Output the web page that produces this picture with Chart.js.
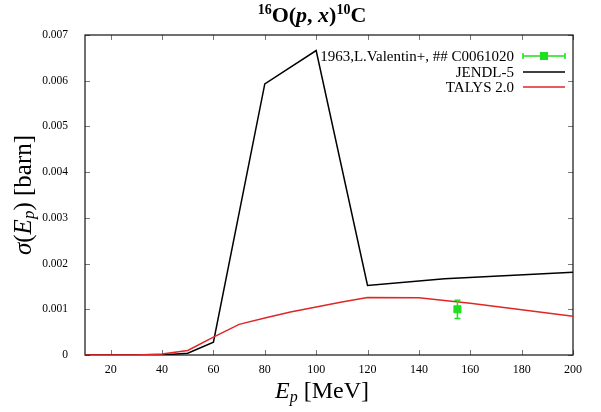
<!DOCTYPE html>
<html lang="en">
<head>
<meta charset="UTF-8">
<title>16O(p,x)10C cross section</title>
<script src="https://cdn.jsdelivr.net/npm/chart.js"></script>
<style>
  body { margin: 0; background: #fff; }
  canvas { display: block; }
</style>
</head>
<body>
<canvas id="xs-chart" width="601" height="412"></canvas>
<script>
// Evaluated cross sections: proton energy (MeV) vs sigma (barn)
const jendlEnergy = [10, 20, 30, 40, 50, 60, 80, 100, 120, 150, 200];
const jendlSigma  = [0, 0, 0, 0, 0.00004, 0.00028, 0.00593, 0.00666, 0.00152, 0.00167, 0.00181];

const talysEnergy = [10, 20, 30, 40, 50, 60, 70, 80, 90, 100, 110, 120, 140, 160, 180, 200];
const talysSigma  = [0, 0, 0, 0.00002, 0.0001, 0.00039, 0.00067, 0.00081, 0.00094, 0.00105,
                     0.00116, 0.00126, 0.00125, 0.00113, 0.00099, 0.00085];

// EXFOR C0061020 (1963, L. Valentin+)
const expEnergy = [155];
const expSigma  = [0.001];
const expError  = [0.0002];

const xTicks = [20, 40, 60, 80, 100, 120, 140, 160, 180, 200];
const yTicks = [0, 0.001, 0.002, 0.003, 0.004, 0.005, 0.006, 0.007];

const SERIF = '"Liberation Serif", "Times New Roman", serif';
const GREEN = '#1fe01f';
const RED = '#e02626';
const BLACK = '#000000';

function toPoints(xs, ys) {
  return xs.map((x, i) => ({ x: x, y: ys[i] }));
}

// draw a run of text pieces, each with its own font and vertical shift
function richText(ctx, parts, x, y, align) {
  let width = 0;
  parts.forEach(p => {
    ctx.font = p.font;
    p.w = ctx.measureText(p.text).width;
    width += p.w;
  });
  let cx = align === 'center' ? x - width / 2 : align === 'right' ? x - width : x;
  ctx.textAlign = 'left';
  ctx.textBaseline = 'alphabetic';
  parts.forEach(p => {
    ctx.font = p.font;
    ctx.fillText(p.text, cx, y + (p.dy || 0));
    cx += p.w;
  });
}

// box around the plot with inward tick marks on all four sides
const frame = {
  id: 'frame',
  beforeDatasetsDraw(chart) {
    const { ctx, chartArea: a, scales } = chart;
    const tl = 5;
    ctx.save();
    ctx.strokeStyle = '#777';
    ctx.lineWidth = 1;
    ctx.beginPath();
    xTicks.forEach(v => {
      const px = Math.round(scales.x.getPixelForValue(v)) + 0.5;
      ctx.moveTo(px, a.bottom); ctx.lineTo(px, a.bottom - tl);
      ctx.moveTo(px, a.top); ctx.lineTo(px, a.top + tl);
    });
    yTicks.forEach(v => {
      const py = Math.round(scales.y.getPixelForValue(v)) + 0.5;
      ctx.moveTo(a.left, py); ctx.lineTo(a.left + tl, py);
      ctx.moveTo(a.right, py); ctx.lineTo(a.right - tl, py);
    });
    ctx.stroke();
    ctx.strokeStyle = '#111';
    ctx.lineWidth = 1.2;
    ctx.strokeRect(a.left, a.top, a.right - a.left, a.bottom - a.top);
    ctx.restore();
  }
};

// vertical error bars for the measured point
const errorBars = {
  id: 'errorBars',
  afterDatasetsDraw(chart) {
    const { ctx, scales } = chart;
    ctx.save();
    ctx.strokeStyle = GREEN;
    ctx.lineWidth = 1.5;
    expEnergy.forEach((e, i) => {
      const px = scales.x.getPixelForValue(e);
      const lo = scales.y.getPixelForValue(expSigma[i] - expError[i]);
      const hi = scales.y.getPixelForValue(expSigma[i] + expError[i]);
      ctx.beginPath();
      ctx.moveTo(px, lo); ctx.lineTo(px, hi);
      ctx.moveTo(px - 3, lo); ctx.lineTo(px + 3, lo);
      ctx.moveTo(px - 3, hi); ctx.lineTo(px + 3, hi);
      ctx.stroke();
    });
    ctx.restore();
  }
};

// title, axis titles and the key in the upper right
const labels = {
  id: 'labels',
  afterDraw(chart) {
    const { ctx, chartArea: a } = chart;
    ctx.save();
    ctx.fillStyle = '#000';

    const b = 'bold 22px ' + SERIF;
    const bi = 'italic bold 22px ' + SERIF;
    const bs = 'bold 14px ' + SERIF;
    richText(ctx, [
      { text: '16', font: bs, dy: -8 },
      { text: 'O(', font: b },
      { text: 'p', font: bi },
      { text: ', ', font: b },
      { text: 'x', font: bi },
      { text: ')', font: b },
      { text: '10', font: bs, dy: -8 },
      { text: 'C', font: b }
    ], 312, 22, 'center');

    const n = '24px ' + SERIF;
    const it = 'italic 24px ' + SERIF;
    const sub = 'italic 16px ' + SERIF;
    richText(ctx, [
      { text: 'E', font: it },
      { text: 'p', font: sub, dy: 4 },
      { text: ' [MeV]', font: n }
    ], 322, 398, 'center');

    const yn = '25px ' + SERIF;
    const yit = 'italic 25px ' + SERIF;
    const ysub = 'italic 17px ' + SERIF;
    ctx.save();
    ctx.translate(31, (a.top + a.bottom) / 2);
    ctx.rotate(-Math.PI / 2);
    richText(ctx, [
      { text: 'σ', font: yit },
      { text: '(', font: yn },
      { text: 'E', font: yit },
      { text: 'p', font: ysub, dy: 3 },
      { text: ') [barn]', font: yn }
    ], 0, 0, 'center');
    ctx.restore();

    // key
    const keyFont = '15px ' + SERIF;
    const textRight = 514, s0 = 523, s1 = 565;
    const rows = [56, 72, 87];
    chart.data.datasets.forEach((ds, i) => {
      const y = rows[i];
      ctx.font = keyFont;
      ctx.textAlign = 'right';
      ctx.textBaseline = 'middle';
      ctx.fillText(ds.label, textRight, y + 1);
      ctx.strokeStyle = ds.borderColor;
      ctx.lineWidth = 1.5;
      ctx.beginPath();
      ctx.moveTo(s0, y); ctx.lineTo(s1, y);
      if (i === 0) {
        ctx.moveTo(s0, y - 3); ctx.lineTo(s0, y + 3);
        ctx.moveTo(s1, y - 3); ctx.lineTo(s1, y + 3);
      }
      ctx.stroke();
      if (i === 0) {
        ctx.fillStyle = GREEN;
        ctx.fillRect((s0 + s1) / 2 - 4, y - 4, 8, 8);
        ctx.fillStyle = '#000';
      }
    });
    ctx.restore();
  }
};

new Chart(document.getElementById('xs-chart'), {
  type: 'scatter',
  data: {
    datasets: [
      {
        label: '1963,L.Valentin+, ## C0061020',
        data: toPoints(expEnergy, expSigma),
        borderColor: GREEN,
        backgroundColor: GREEN,
        pointStyle: 'rect',
        pointRadius: 5,
        borderWidth: 1,
        showLine: false,
        order: 0
      },
      {
        label: 'JENDL-5',
        data: toPoints(jendlEnergy, jendlSigma),
        borderColor: BLACK,
        borderWidth: 1.5,
        pointRadius: 0,
        showLine: true,
        order: 2
      },
      {
        label: 'TALYS 2.0',
        data: toPoints(talysEnergy, talysSigma),
        borderColor: RED,
        borderWidth: 1.5,
        pointRadius: 0,
        showLine: true,
        order: 1
      }
    ]
  },
  options: {
    responsive: false,
    devicePixelRatio: 1,
    animation: false,
    layout: { padding: { left: 0, right: 28, top: 35, bottom: 0 } },
    plugins: {
      legend: { display: false },
      title: { display: false },
      tooltip: { enabled: false }
    },
    scales: {
      x: {
        type: 'linear',
        min: 10,
        max: 200,
        grid: { display: false, drawTicks: false },
        border: { display: false },
        afterBuildTicks: s => { s.ticks = xTicks.map(v => ({ value: v })); },
        afterFit: s => { s.height = 57; },
        ticks: {
          padding: 8,
          color: '#000',
          font: { family: SERIF, size: 12 },
          maxRotation: 0
        }
      },
      y: {
        type: 'linear',
        min: 0,
        max: 0.007,
        grid: { display: false, drawTicks: false },
        border: { display: false },
        afterBuildTicks: s => { s.ticks = yTicks.map(v => ({ value: v })); },
        afterFit: s => { s.width = 85; },
        ticks: {
          padding: 17,
          color: '#000',
          font: { family: SERIF, size: 11.5 },
          callback: v => (v === 0 ? '0' : v.toFixed(3))
        }
      }
    }
  },
  plugins: [frame, errorBars, labels]
});
</script>
</body>
</html>
